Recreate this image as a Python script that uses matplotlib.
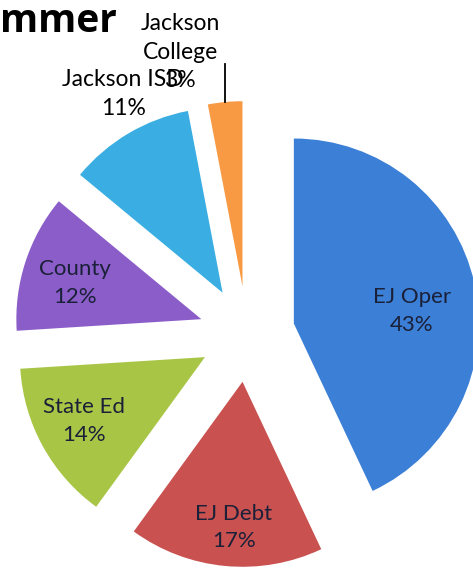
import matplotlib
matplotlib.use('Agg')
import matplotlib.pyplot as plt
import numpy as np

names = ['EJ Oper', 'EJ Debt', 'State Ed', 'County', 'Jackson ISD', 'Jackson\nCollege']
shares = [43, 17, 14, 12, 11, 3]
colors = ['#3b7fd6', '#c95150', '#a9c546', '#8b5dc9', '#3aaee2', '#f89a43']

plt.rcParams['font.family'] = ['Lato', 'DejaVu Sans']

fig = plt.figure(figsize=(4.73, 5.69), dpi=100)
ax = fig.add_axes([0, 0, 1, 1])

r = 185
wedges, texts = ax.pie(shares, colors=colors, startangle=90, counterclock=False,
                       center=(247, 235), radius=r, explode=[48] * len(shares),
                       labels=[f'{n}\n{s}%' for n, s in zip(names, shares)],
                       labeldistance=0.7, frame=True,
                       textprops=dict(fontsize=16, color='#1a2038', ha='center', va='center',
                                      linespacing=1.45))
ax.set_xlim(0, 473)
ax.set_ylim(0, 569)
ax.set_aspect('equal')
ax.axis('off')

# nudge the inside labels a bit (distance, angle shift)
for i, (dist, extra) in {0: (0.64, -6.5), 1: (0.79, 2), 2: (0.74, -1), 3: (0.71, 2)}.items():
    w = wedges[i]
    mid = np.deg2rad((w.theta1 + w.theta2) / 2 + extra)
    cx, cy = w.center
    texts[i].set_position((cx + dist * r * np.cos(mid), cy + dist * r * np.sin(mid)))

# outer labels for the two small slices
for i, (dist, extra) in {4: (1.2, -4), 5: (1.31, 9.5)}.items():
    w = wedges[i]
    mid = np.deg2rad((w.theta1 + w.theta2) / 2 + extra)
    cx, cy = w.center
    texts[i].set_position((cx + dist * r * np.cos(mid), cy + dist * r * np.sin(mid)))
    texts[i].set_color('black')
    texts[i].set_fontsize(16.5)

# leader line for Jackson College
w = wedges[5]
mid = np.deg2rad((w.theta1 + w.theta2) / 2)
lx = w.center[0] + r * np.cos(mid)
ly = w.center[1] + r * np.sin(mid)
ax.plot([lx, lx], [ly, ly + 38], color='black', lw=1.3)

fig.text(0.0, 0.962, 'mmer', fontsize=28, fontweight='bold', ha='left', va='center',
         family=['Open Sans', 'DejaVu Sans'])

fig.savefig('out.png', dpi=100)
